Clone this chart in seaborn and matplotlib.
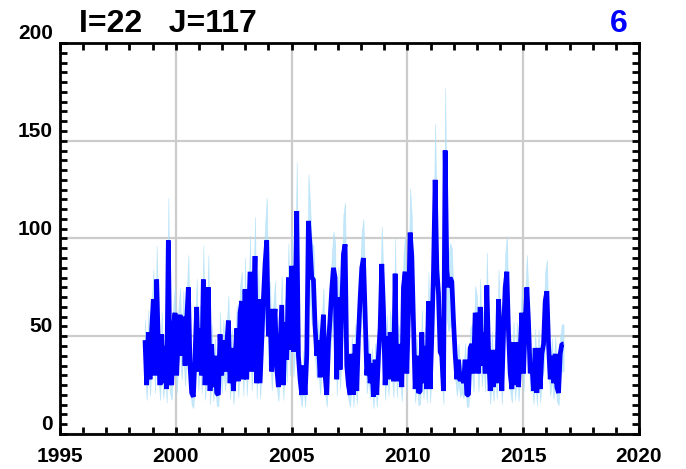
import numpy as np
import pandas as pd
import matplotlib
matplotlib.use('Agg')
import matplotlib.pyplot as plt
from matplotlib.ticker import MultipleLocator
import seaborn as sns

sns.set_style('white')
plt.rcParams['font.family'] = ['Liberation Sans', 'DejaVu Sans']
plt.rcParams['font.weight'] = 'bold'
plt.rcParams['text.color'] = 'black'
plt.rcParams['xtick.color'] = 'black'
plt.rcParams['ytick.color'] = 'black'
plt.rcParams['xtick.labelcolor'] = 'black'
plt.rcParams['ytick.labelcolor'] = 'black'

# time axis of the series
start_year = 1998.67
step_year = 0.072

# values, 1998.7 - 2007.7
values_a = [48, 25, 52, 28, 53, 69, 30, 79, 45, 25, 51, 26, 45, 23, 99, 30, 25, 54, 62, 30,
            52, 61, 40, 60, 35, 58, 75, 35, 21, 19, 40, 65, 32, 54, 30, 79, 25, 45, 75, 22,
            46, 24, 40, 21, 20, 51, 30, 48, 32, 45, 58, 26, 44, 22, 38, 54, 27, 62, 68, 28,
            74, 28, 55, 83, 32, 60, 91, 26, 69, 26, 48, 69, 87, 99, 50, 64, 32, 55, 64, 34,
            24, 45, 66, 25, 57, 38, 80, 43, 86, 42, 61, 114, 40, 28, 20, 35, 20, 40, 109, 96,
            80, 79, 55, 40, 48, 29, 48, 61, 30, 20, 46, 59, 74, 85, 80, 28, 70, 33, 65, 92,
            97, 35, 25, 20, 41, 20]
# 2007.7 - 2016.7
values_b = [46, 22, 50, 69, 85, 90, 62, 30, 41, 26, 36, 19, 38, 20, 40, 54, 87, 64, 25, 50,
            28, 52, 43, 27, 82, 27, 46, 38, 24, 75, 83, 31, 62, 103, 91, 56, 23, 40, 21, 22,
            52, 26, 45, 23, 68, 23, 50, 83, 130, 84, 72, 42, 40, 22, 145, 84, 75, 80, 78, 58,
            41, 28, 38, 27, 31, 26, 38, 20, 20, 44, 46, 31, 62, 58, 31, 65, 35, 52, 31, 76,
            43, 22, 43, 24, 43, 26, 69, 50, 22, 52, 75, 83, 52, 31, 23, 47, 25, 47, 24, 43,
            62, 31, 57, 75, 57, 31, 36, 22, 44, 21, 44, 23, 41, 46, 68, 73, 46, 28, 40, 26,
            41, 24, 21, 41, 46, 46]
values = values_a + values_b

# relative width of the light blue band
lo_ratio = 0.70
hi_ratio = 1.22

df = pd.DataFrame({'year': start_year + step_year * np.arange(len(values)),
                   'val': values})

fig = plt.figure(figsize=(6.86, 4.69), dpi=100)
ax = fig.add_axes([60/686, 1 - 434/469, (639-60)/686, (434-43)/469])

ax.fill_between(df['year'], df['val'] * lo_ratio, df['val'] * hi_ratio,
                color='#addff8', alpha=0.7, lw=0.5, zorder=2)
sns.lineplot(data=df, x='year', y='val', color='#0000ff', lw=3.4, ax=ax, zorder=3,
             solid_joinstyle='bevel', solid_capstyle='butt')

ax.set_xlim(1995, 2020)
ax.set_ylim(0, 200)
ax.xaxis.set_major_locator(MultipleLocator(5))
ax.xaxis.set_minor_locator(MultipleLocator(1))
ax.yaxis.set_major_locator(MultipleLocator(50))
ax.yaxis.set_minor_locator(MultipleLocator(5))
ax.grid(True, which='major', color='#cccccc', lw=1.6)
ax.set_axisbelow(True)
ax.set_xlabel('')
ax.set_ylabel('')

ax.tick_params(which='both', direction='in', top=True, right=True, bottom=True, left=True,
               length=5, width=2, color='black')
ax.tick_params(axis='x', labelsize=15, pad=9, labelcolor='black')
ax.tick_params(axis='y', labelsize=15, pad=5, labelcolor='black')
for lab in ax.get_yticklabels():
    lab.set_va('bottom')
for sp in ax.spines.values():
    sp.set_linewidth(2)
    sp.set_color('black')

fig.text(79/686, 1 - 32/469, 'I=22   J=117', fontsize=23, fontweight='bold',
         va='baseline', ha='left', color='black')
fig.text(628/686, 1 - 32/469, '6', fontsize=23, fontweight='bold', color='#0000ff',
         va='baseline', ha='right')

fig.savefig('out.png', dpi=100)
